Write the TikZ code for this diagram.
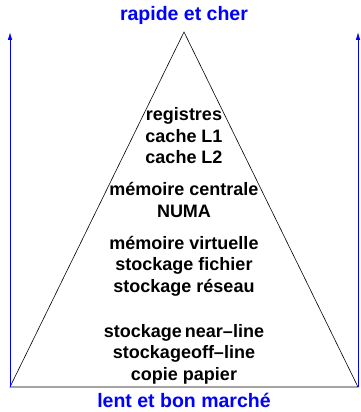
\documentclass[tikz,border=0pt]{standalone}
\usepackage{fontspec}
\setmainfont{Liberation Sans}
\usetikzlibrary{arrows.meta}
\begin{document}
\begin{tikzpicture}[x=1pt,y=1pt,
  lbl/.style={font=\bfseries\fontsize{18}{21.5}\selectfont, align=center, inner sep=0pt},
  blbl/.style={font=\bfseries\fontsize{19.5}{22}\selectfont, text=blue, inner sep=0pt, anchor=base},
  axis/.style={blue, line width=0.8pt, -{Latex[length=8pt,width=4.5pt]}}]
\useasboundingbox (0,0) rectangle (360,412);
\coordinate (apex) at (184,380);
\coordinate (bl) at (10,25);
\coordinate (br) at (358,25);
\coordinate (tl) at (10,380);
\coordinate (tr) at (358,380);
\draw[line width=0.6pt] (apex) -- (bl) -- (br) -- cycle;
\draw[axis] (bl) -- (tl);
\draw[axis] (br) -- (tr);
\node[blbl] (top) at (184,391) {rapide et cher};
\node[blbl] (bot) at (184,4.5) {lent et bon marché};
\node[lbl] (g1) at (184,276) {registres\\cache L1\\cache L2};
\node[lbl] (g2) at (184,212) {mémoire centrale\\NUMA};
\node[lbl] (g3) at (184,146) {mémoire virtuelle\\stockage fichier\\stockage réseau};
\node[lbl] (g4) at (184,58) {stockage\,near–line\\stockageoff–line\\copie papier};
\end{tikzpicture}
\end{document}
